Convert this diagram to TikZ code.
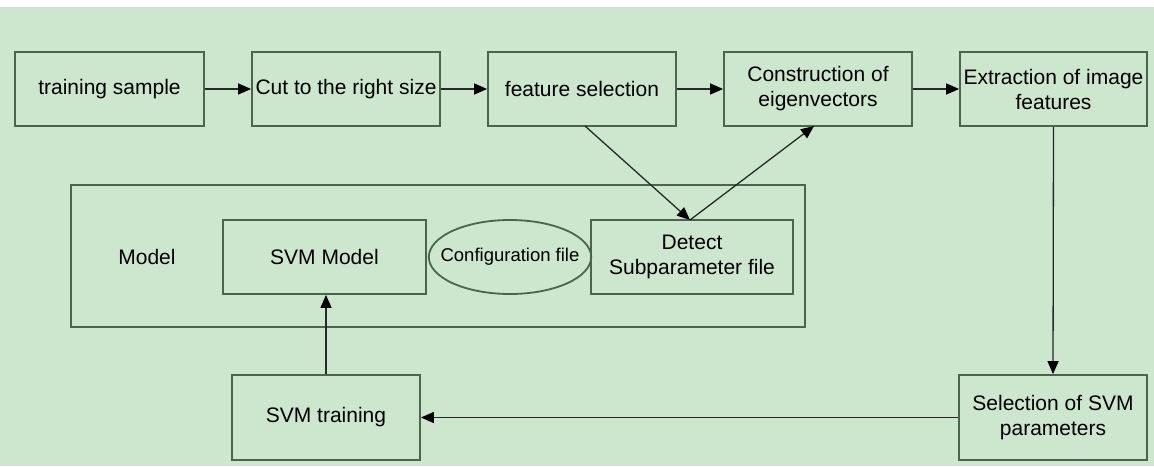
\documentclass[tikz,border=0pt]{standalone}
\usepackage{fontspec}
\setmainfont{Liberation Sans}
\usetikzlibrary{arrows.meta,shapes.geometric}
\definecolor{bg}{HTML}{CDE6CE}
\definecolor{bord}{HTML}{4A654C}
\definecolor{ln}{HTML}{262A26}
\tikzset{
  box/.style={draw=bord, line width=1.8pt, rectangle, inner sep=0pt, align=center,
    font=\fontsize{21}{25}\selectfont},
  conn/.style={draw=ln, line width=1.3pt, -{Triangle[length=13pt,width=11pt,fill=black,color=black]}},
}
\begin{document}
\begin{tikzpicture}[x=1pt,y=-1pt]
\useasboundingbox (0,0) rectangle (1154,466);
\fill[white] (0,0) rectangle (1154,7);
\fill[bg] (0,7) rectangle (1154,466);
% top row
\node[box, minimum width=189pt, minimum height=74pt] (ts) at (109.5,89) {training sample};
\node[box, minimum width=188pt, minimum height=74pt] (cut) at (346,89) {Cut to the right size};
\node[box, minimum width=188pt, minimum height=74pt] (fs) at (582,89) {feature selection};
\node[box, minimum width=188pt, minimum height=74pt] (ce) at (818,89) {Construction of\\eigenvectors};
\node[box, minimum width=187pt, minimum height=74pt] (ex) at (1053.5,89) {Extraction of image\\features};
% model group
\node[box, minimum width=734pt, minimum height=142pt] (model) at (438,256) {};
\node[font=\fontsize{21}{25}\selectfont, inner sep=0pt] (mlabel) at (147,257) {Model};
\node[box, minimum width=203pt, minimum height=74pt] (svmm) at (324.5,257) {SVM Model};
\node[draw=bord, line width=1.8pt, ellipse, minimum width=162pt, minimum height=74pt,
  inner xsep=-12pt, inner ysep=0pt,
  font=\fontsize{18.5}{22}\selectfont] (cfg) at (510,257) {Configuration file};
\node[box, minimum width=202pt, minimum height=74pt] (det) at (692,257) {Detect\\Subparameter file};
% bottom row
\node[box, minimum width=188pt, minimum height=85pt] (svmt) at (326,417.5) {SVM training};
\node[box, minimum width=188pt, minimum height=85pt] (sel) at (1053,417.5) {Selection of SVM\\parameters};
% connector end points
\coordinate (fsout) at (585,126);
\coordinate (detin) at (690,220);
\coordinate (cein) at (814,126);
% connectors
\draw[conn] (ts) -- (cut);
\draw[conn] (cut) -- (fs);
\draw[conn] (fs) -- (ce);
\draw[conn] (ce) -- (ex);
\draw[conn] (ex.south) -- (sel.north);
\draw[conn] (sel.west) -- (svmt.east);
\draw[conn] (svmt.north) -- (svmt.north |- svmm.south);
\draw[conn] (fsout) -- (detin);
\draw[conn] (detin) -- (cein);
\end{tikzpicture}
\end{document}
